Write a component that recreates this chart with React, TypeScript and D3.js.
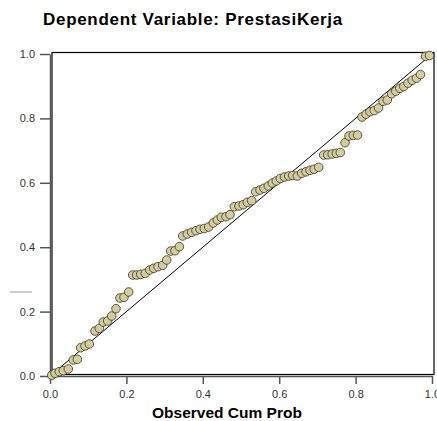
import React, { useRef, useEffect } from "react";
import * as d3 from "d3";

// Observed cumulative probability (x) and expected cumulative probability (y)
const observed = [
  0.0045, 0.0131, 0.0243, 0.0348, 0.0479, 0.061, 0.0715, 0.0804, 0.0916, 0.1029,
  0.1178, 0.1291, 0.1395, 0.151, 0.1615, 0.1728, 0.1832, 0.1937, 0.206, 0.2165,
  0.227, 0.2374, 0.2495, 0.261, 0.2715, 0.2827, 0.295, 0.3055, 0.316, 0.3272,
  0.3385, 0.3474, 0.3594, 0.3709, 0.3822, 0.3927, 0.4039, 0.4154, 0.4275, 0.438,
  0.4484, 0.4607, 0.4712, 0.4825, 0.4948, 0.506, 0.5165, 0.528, 0.5385, 0.5497,
  0.5602, 0.5715, 0.582, 0.5925, 0.6029, 0.6139, 0.6249, 0.6354, 0.6474, 0.6589,
  0.6702, 0.6806, 0.6916, 0.7034, 0.7165, 0.7272, 0.7387, 0.7495, 0.7599, 0.7723,
  0.7827, 0.794, 0.805, 0.8168, 0.8272, 0.8377, 0.8487, 0.8599, 0.8717, 0.883,
  0.8945, 0.9052, 0.9157, 0.9262, 0.9372, 0.9482, 0.9594, 0.9699, 0.983, 0.9935,
];
const expected = [
  0.0022, 0.0084, 0.0134, 0.0165, 0.0217, 0.0497, 0.0518, 0.0879, 0.0932, 0.0994,
  0.1398, 0.1481, 0.1677, 0.1708, 0.1863, 0.209, 0.2422, 0.2443, 0.2609, 0.3137,
  0.3137, 0.3158, 0.3189, 0.3292, 0.3345, 0.3394, 0.3438, 0.3602, 0.3882, 0.3891,
  0.4016, 0.4348, 0.441, 0.4463, 0.4513, 0.4556, 0.4581, 0.4627, 0.4752, 0.4845,
  0.4929, 0.4947, 0.5009, 0.5258, 0.528, 0.532, 0.5394, 0.5444, 0.5723, 0.5776,
  0.5829, 0.5901, 0.5994, 0.6056, 0.6134, 0.618, 0.6211, 0.6227, 0.6211, 0.6295,
  0.6342, 0.6388, 0.6422, 0.6481, 0.6863, 0.6869, 0.6894, 0.6916, 0.6941, 0.7245,
  0.7453, 0.7475, 0.7484, 0.8043, 0.813, 0.8208, 0.8245, 0.8323, 0.8531, 0.8571,
  0.8764, 0.8845, 0.8934, 0.8991, 0.9093, 0.9186, 0.9248, 0.9363, 0.9928, 0.9953,
];
const tickValues = [0, 0.2, 0.4, 0.6, 0.8, 1.0];

const PPPlot = () => {
  const svgRef = useRef<SVGSVGElement>(null);

  useEffect(() => {
    const svg = d3.select(svgRef.current);
    svg.selectAll("*").remove();
    const width = 437;
    const height = 421;
    const font = "Arial, 'Liberation Sans', sans-serif";

    svg.attr("width", width).attr("height", height);

    const x = d3.scaleLinear().domain([0, 1]).range([50, 432]);
    const y = d3.scaleLinear().domain([0, 1]).range([376, 54]);

    // title
    svg
      .append("text")
      .attr("x", 43)
      .attr("y", 25)
      .attr("font-family", font)
      .attr("font-size", 17)
      .attr("font-weight", "bold")
      .attr("letter-spacing", 0.7)
      .text("Dependent Variable: PrestasiKerja");

    // frame
    svg
      .append("rect")
      .attr("x", 52)
      .attr("y", 52.5)
      .attr("width", 382)
      .attr("height", 322)
      .attr("fill", "none")
      .attr("stroke", "#000")
      .attr("stroke-width", 1.2);

    // axes
    const yAxis = svg
      .append("g")
      .attr("transform", "translate(50,0)")
      .call(
        d3
          .axisLeft(y)
          .tickValues(tickValues)
          .tickSize(10)
          .tickSizeOuter(0)
          .tickPadding(5)
          .tickFormat(d3.format(".1f"))
      );
    const xAxis = svg
      .append("g")
      .attr("transform", "translate(0,376)")
      .call(
        d3
          .axisBottom(x)
          .tickValues(tickValues)
          .tickSize(8)
          .tickSizeOuter(0)
          .tickPadding(6)
          .tickFormat(d3.format(".1f"))
      );
    [yAxis, xAxis].forEach((g) => {
      g.selectAll("path, line").attr("stroke", "#555").attr("stroke-width", 1.5);
      g.selectAll("text")
        .attr("font-family", font)
        .attr("font-size", 11)
        .attr("fill", "#333");
    });

    // x axis title
    svg
      .append("text")
      .attr("x", 227)
      .attr("y", 418)
      .attr("text-anchor", "middle")
      .attr("font-family", font)
      .attr("font-size", 15.5)
      .attr("font-weight", "bold")
      .text("Observed Cum Prob");

    // collapsed y axis title mark
    svg
      .append("line")
      .attr("x1", 10)
      .attr("x2", 32)
      .attr("y1", 292)
      .attr("y2", 292)
      .attr("stroke", "#999")
      .attr("stroke-width", 1);

    // reference diagonal
    svg
      .append("line")
      .attr("x1", x(0))
      .attr("y1", y(0))
      .attr("x2", x(1))
      .attr("y2", y(1))
      .attr("stroke", "#000")
      .attr("stroke-width", 1);

    // points
    svg
      .append("g")
      .selectAll("circle")
      .data(observed.map((d, i) => [d, expected[i]]))
      .join("circle")
      .attr("cx", (d) => x(d[0]))
      .attr("cy", (d) => y(d[1]))
      .attr("r", 4.3)
      .attr("fill", "#d5cd98")
      .attr("stroke", "#333")
      .attr("stroke-width", 0.8);
  }, []);

  return (
    <svg
      ref={svgRef}
      style={{ position: "absolute", left: 0, top: 0, background: "#fff" }}
    ></svg>
  );
};

export default function App() {
  return <PPPlot />;
}
